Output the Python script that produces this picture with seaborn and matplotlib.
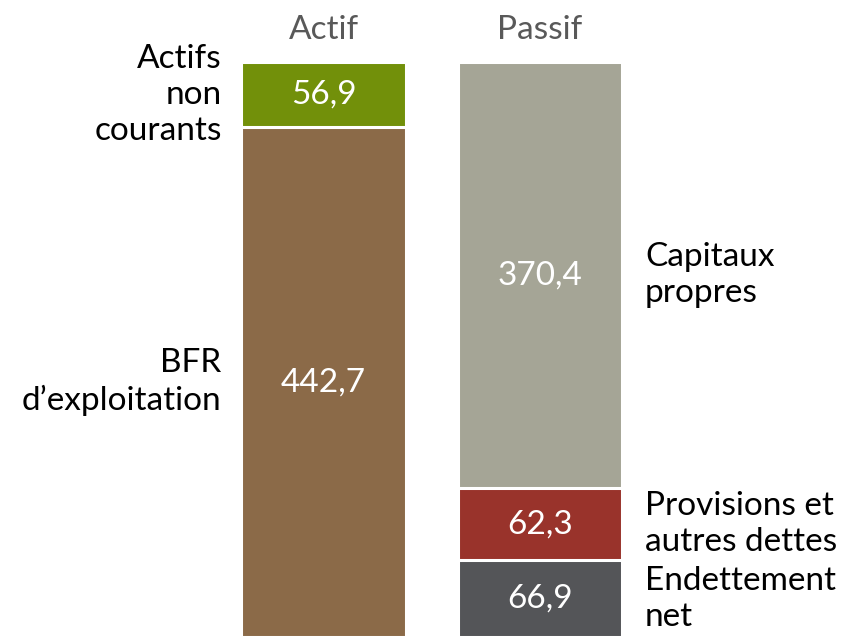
import numpy as np
import pandas as pd
import matplotlib.pyplot as plt
import seaborn as sns

# balance sheet data (M EUR)
columns = ["Actif", "Passif"]
actif_labels = ["BFR\nd’exploitation", "Actifs\nnon\ncourants"]
actif_values = [442.7, 56.9]
passif_labels = ["Endettement\nnet", "Provisions et\nautres dettes", "Capitaux\npropres"]
passif_values = [66.9, 62.3, 370.4]

actif_colors = ["#8B6A48", "#72900A"]
passif_colors = ["#545558", "#99332B", "#A5A596"]

sns.set_style("white")
plt.rcParams["font.family"] = ["Lato", "DejaVu Sans"]

fig = plt.figure(figsize=(8.46, 6.37), dpi=100)
ax = fig.add_axes([0, 0, 1, 575 / 637])

# layered bars: draw cumulative tops first, lower segments over them
actif_cum = np.cumsum(actif_values)
passif_cum = np.cumsum(passif_values)
layers = []
n = max(len(actif_values), len(passif_values))
for i in range(n - 1, -1, -1):
    rows = []
    if i < len(actif_values):
        rows.append(("Actif", actif_cum[i], actif_colors[i]))
    if i < len(passif_values):
        rows.append(("Passif", passif_cum[i], passif_colors[i]))
    layers.append(rows)

for rows in layers:
    d = pd.DataFrame(rows, columns=["col", "val", "color"])
    sns.barplot(data=d, x="col", y="val", hue="col", order=columns,
                palette=dict(zip(d["col"], d["color"])), width=0.76,
                saturation=1, edgecolor="white", linewidth=2.2,
                legend=False, ax=ax)

ax.set_xlim(-1.494, 2.413)
ax.set_ylim(0, actif_cum[-1])
ax.axis("off")

fs = 24
# values inside segments + side labels
bottoms = np.concatenate([[0], actif_cum[:-1]])
for b, v, lab in zip(bottoms, actif_values, actif_labels):
    mid = b + v / 2
    ax.text(0, mid, f"{v:.1f}".replace(".", ","), color="white", fontsize=fs,
            ha="center", va="center")
    ax.text(-0.47, mid, lab, color="black", fontsize=fs, ha="right",
            va="center", linespacing=1.25)

bottoms = np.concatenate([[0], passif_cum[:-1]])
for b, v, lab in zip(bottoms, passif_values, passif_labels):
    mid = b + v / 2
    ax.text(1, mid, f"{v:.1f}".replace(".", ","), color="white", fontsize=fs,
            ha="center", va="center")
    ax.text(1.485, mid, lab, color="black", fontsize=fs, ha="left",
            va="center", linespacing=1.25)

for i, c in enumerate(columns):
    fig.text((323.5 + i * 216.5) / 846, 1 - 30 / 637, c, color="#595959",
             fontsize=fs, ha="center", va="center")

fig.savefig("out.png", dpi=100)
